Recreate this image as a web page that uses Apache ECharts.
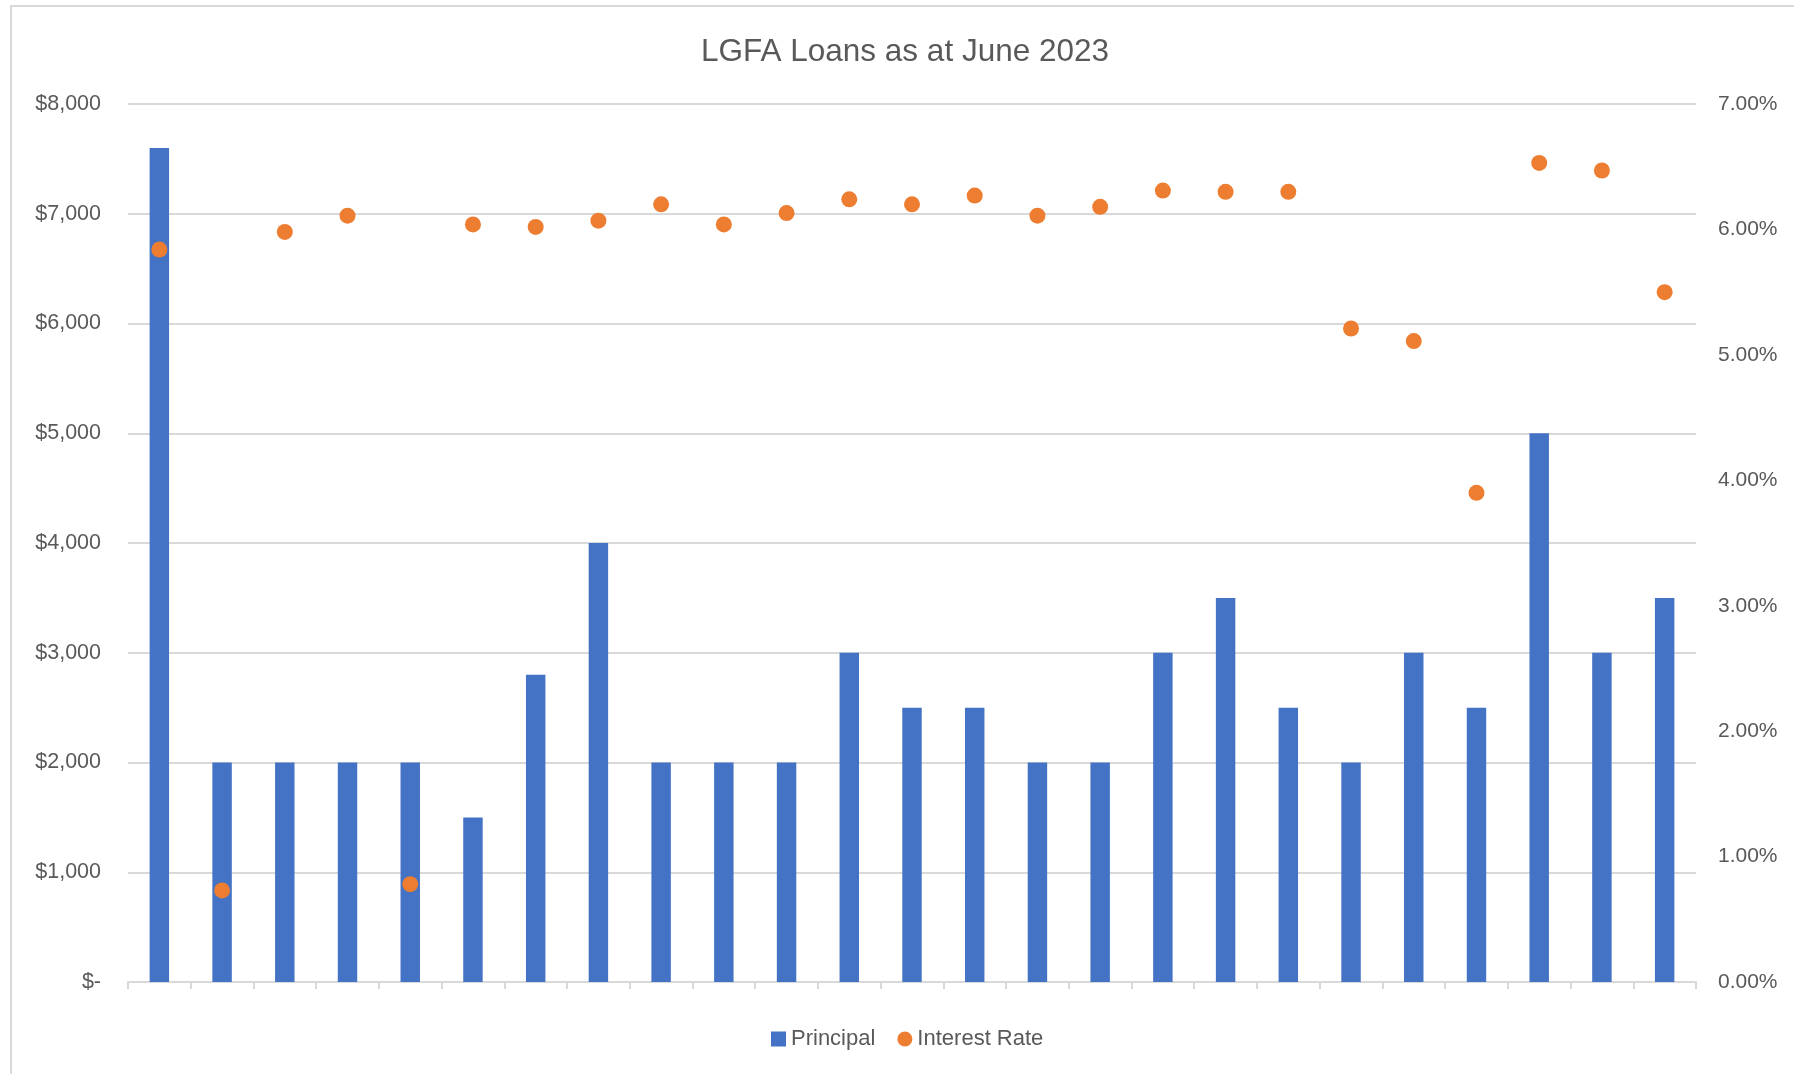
<!DOCTYPE html>
<html>
<head>
<meta charset="utf-8">
<title>LGFA Loans as at June 2023</title>
<script src="https://cdn.jsdelivr.net/npm/echarts@6/dist/echarts.min.js"></script>
<style>
  html, body { margin: 0; padding: 0; background: #ffffff; }
  #chart { width: 1794px; height: 1074px; }
</style>
</head>
<body>
<div id="chart"></div>
<script>
// Loan numbers (the axis itself carries no labels)
const loans = ['1','2','3','4','5','6','7','8','9','10','11','12','13',
               '14','15','16','17','18','19','20','21','22','23','24','25'];

// Principal per loan, $ (millions)
const principal = [7600, 2000, 2000, 2000, 2000, 1500, 2800, 4000, 2000, 2000,
                   2000, 3000, 2500, 2500, 2000, 2000, 3000, 3500, 2500, 2000,
                   3000, 2500, 5000, 3000, 3500];

// Interest rate per loan, %
const interestRate = [5.84, 0.73, 5.98, 6.11, 0.78, 6.04, 6.02, 6.07, 6.20, 6.04,
                      6.13, 6.24, 6.20, 6.27, 6.11, 6.18, 6.31, 6.30, 6.30, 5.21,
                      5.11, 3.90, 6.53, 6.47, 5.50];

const FONT = '"Liberation Sans", Arial, sans-serif';
const TEXT = '#595959';
const GRID_LINE = '#D9D9D9';

const chart = echarts.init(document.getElementById('chart'), null, { renderer: 'canvas' });

chart.setOption({
  backgroundColor: '#ffffff',
  animation: false,
  title: {
    text: 'LGFA Loans as at June 2023',
    left: 900,
    textAlign: 'center',
    top: 31,
    textStyle: { fontFamily: FONT, fontSize: 31.5, fontWeight: 'normal', color: TEXT }
  },
  graphic: [{
    type: 'rect',
    shape: { x: 11, y: 6, width: 1800, height: 1100 },
    style: { fill: 'none', stroke: GRID_LINE, lineWidth: 2 },
    silent: true,
    z: -10
  }],
  legend: {
    top: 1023,
    left: 766,
    itemGap: 22,
    itemWidth: 15,
    itemHeight: 15,
    textStyle: { fontFamily: FONT, fontSize: 22, color: TEXT, padding: [0, 0, 0, 0] },
    data: [
      { name: 'Principal', icon: 'rect' },
      { name: 'Interest Rate', icon: 'circle' }
    ]
  },
  grid: { left: 128, right: 98, top: 104, bottom: 92, containLabel: false },
  xAxis: {
    type: 'category',
    data: loans,
    boundaryGap: true,
    axisLine: { show: true, lineStyle: { color: GRID_LINE, width: 2 } },
    axisTick: { show: true, interval: 0, alignWithLabel: false, length: 7, lineStyle: { color: GRID_LINE, width: 2 } },
    axisLabel: { show: false },
    splitLine: { show: false }
  },
  yAxis: [{
    type: 'value',
    min: 0,
    max: 8000,
    interval: 1000,
    position: 'left',
    axisLine: { show: false },
    axisTick: { show: false },
    axisLabel: {
      margin: 27,
      fontFamily: FONT,
      fontSize: 21.5,
      color: TEXT,
      formatter: v => v === 0 ? '$-' : '$' + v.toLocaleString('en-US')
    },
    splitLine: { show: true, lineStyle: { color: GRID_LINE, width: 2 } }
  }, {
    type: 'value',
    min: 0,
    max: 7,
    interval: 1,
    position: 'right',
    axisLine: { show: false },
    axisTick: { show: false },
    axisLabel: {
      margin: 22,
      fontFamily: FONT,
      fontSize: 21,
      color: TEXT,
      formatter: v => v.toFixed(2) + '%'
    },
    splitLine: { show: false }
  }],
  series: [{
    name: 'Principal',
    type: 'bar',
    yAxisIndex: 0,
    data: principal,
    barWidth: '31%',
    itemStyle: { color: '#4472C4' },
    z: 2
  }, {
    name: 'Interest Rate',
    type: 'scatter',
    yAxisIndex: 1,
    data: interestRate,
    symbol: 'circle',
    symbolSize: 16,
    itemStyle: { color: '#ED7D31', opacity: 1 },
    z: 3
  }]
});
</script>
</body>
</html>
